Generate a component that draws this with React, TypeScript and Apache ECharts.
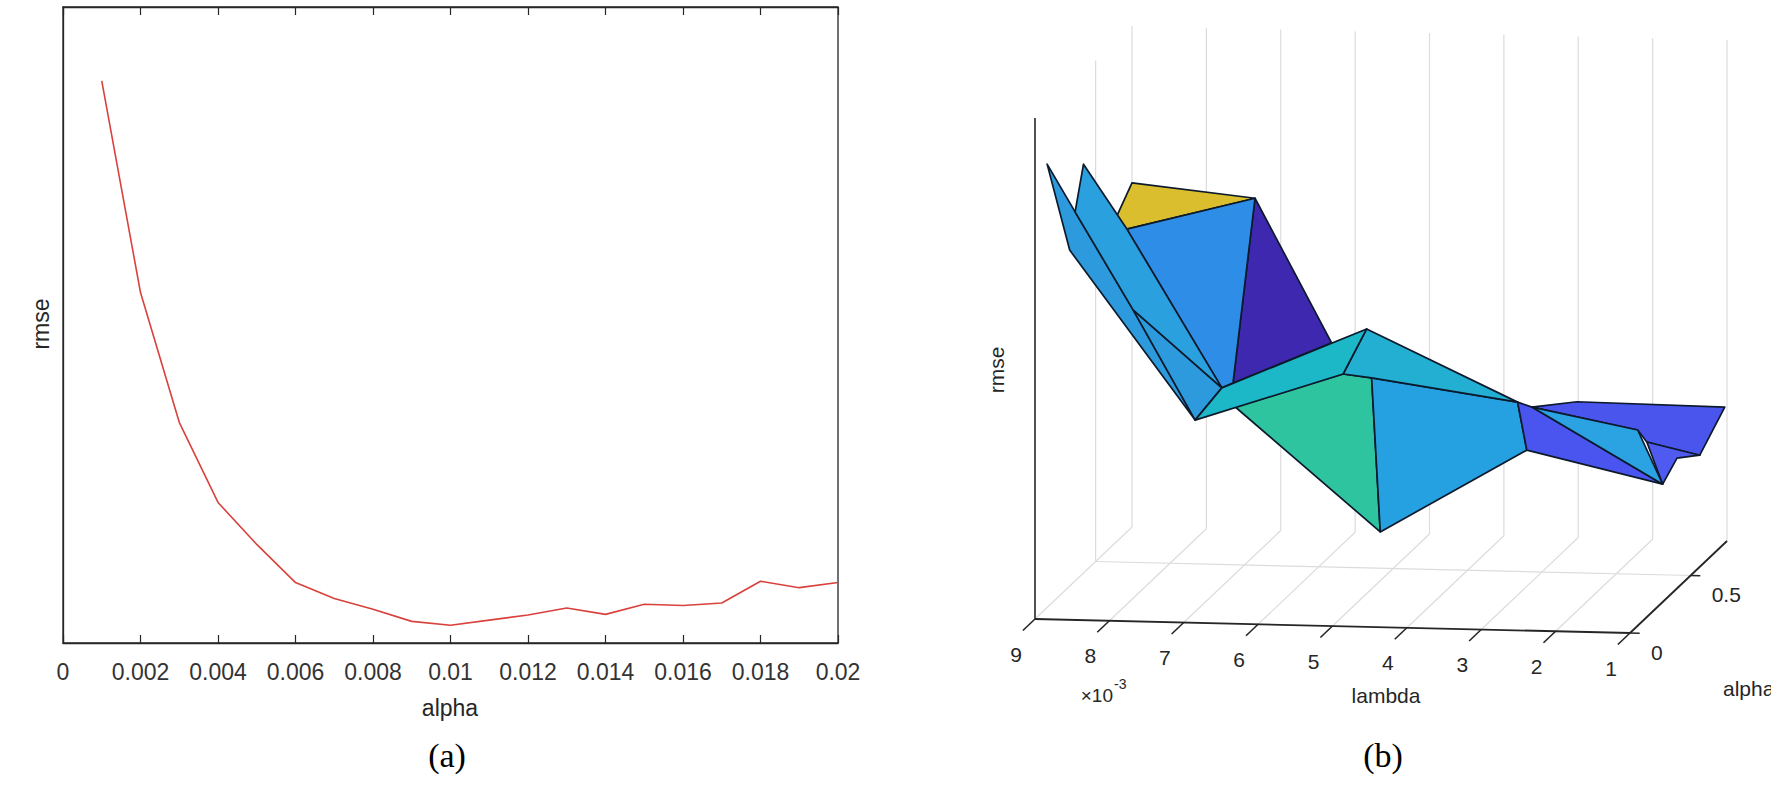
import React, { useEffect, useRef } from 'react';
import * as echarts from 'echarts';

// ---------- (a) rmse vs alpha ----------
const alphaSteps = [
  0.001, 0.002, 0.003, 0.004, 0.005, 0.006, 0.007, 0.008, 0.009, 0.01,
  0.011, 0.012, 0.013, 0.014, 0.015, 0.016, 0.017, 0.018, 0.019, 0.02,
];
const rmseCurve = [
  0.884, 0.551, 0.347, 0.221, 0.155, 0.095, 0.07, 0.053, 0.034, 0.028,
  0.036, 0.044, 0.055, 0.045, 0.061, 0.059, 0.063, 0.097, 0.087, 0.095,
];

// ---------- (b) rmse surface over lambda (x10^-3) and alpha ----------
const lambdaTicks = [1, 2, 3, 4, 5, 6, 7, 8, 9];
const alphaTicks = [0, 0.5];
const lambdaRange = [1, 9];
const alphaRange = [0, 0.8];
const rmseRange = [0, 1];

// surface vertices
const surfLambda = [
  9.0, 9.0, 8.95, 8.86, 8.17, 7.01, 7.14, 8.96, 8.58, 9.0,
  7.02, 6.99, 5.99, 5.03, 5.02, 6.47, 4.8, 5.01, 3.0, 3.04,
  2.89, 2.04, 1.03, 1.04, 1.06, 1.1, 1.02, 1.05,
];
const surfAlpha = [
  0.1, 0.4, 0.3, 0.2, 0.3, 0.1, 0.4, 0.65, 0.5, 0.8,
  0.6, 0.4, 0.6, 0.3, 0.1, 0.1, 0.2, 0.4, 0.3, 0.4,
  0.35, 0.2, 0.8, 0.6, 0.1, 0.2, 0.4, 0.3,
];
const surfRmse = [
  0.885, 0.816, 0.744, 0.691, 0.551, 0.381, 0.376, 0.655, 0.665, 0.687,
  0.709, 0.386, 0.424, 0.524, 0.48, 0.409, 0.45, 0.096, 0.385, 0.266,
  0.364, 0.412, 0.267, 0.217, 0.382, 0.335, 0.257, 0.228,
];
// faces (vertex indices), in back-to-front order
const surfFaces = [
  [9, 10, 8, 7],
  [10, 12, 11],
  [8, 10, 11, 6],
  [0, 2, 4, 5, 3],
  [4, 6, 5],
  [1, 8, 6, 4, 2],
  [15, 14, 16, 17],
  [16, 18, 19, 17],
  [13, 18, 16, 14],
  [5, 6, 13, 14],
  [20, 21, 22, 23, 25, 24],
  [25, 23, 26, 27],
  [18, 20, 27, 19],
  [20, 24, 27],
];
const faceColors = [
  '#DBBE2E', '#3E28B0', '#2E8DE6', '#2C9ADC', '#2C9ADC', '#2AA0DF', '#2FC4A0',
  '#25A0E0', '#22AFD2', '#1DB8C8', '#4A55EE', '#4E5AF0', '#4A54EE', '#2BA3E2',
];

// ---------- layout ----------
const FONT = '"Liberation Sans", Arial, Helvetica, sans-serif';
const SERIF = '"Liberation Serif", "Times New Roman", serif';
const TXT = '#262626';
const BOX = { ox: 1035, oy: 619, lx: 595, ly: 14, ax: 97, ay: -92, zx: 0, zy: -501 };

function project(l: number, a: number, z: number): number[] {
  const u = (lambdaRange[1] - l) / (lambdaRange[1] - lambdaRange[0]);
  const v = (a - alphaRange[0]) / (alphaRange[1] - alphaRange[0]);
  const w = (z - rmseRange[0]) / (rmseRange[1] - rmseRange[0]);
  return [
    BOX.ox + u * BOX.lx + v * BOX.ax + w * BOX.zx,
    BOX.oy + u * BOX.ly + v * BOX.ay + w * BOX.zy,
  ];
}

type Seg = { a: number[]; b: number[]; color: string; width: number };
function buildSegments(): Seg[] {
  const segs: Seg[] = [];
  const grid = '#DCDCDC';
  const lmax = lambdaRange[1], lmin = lambdaRange[0];
  const amax = alphaRange[1];
  const z0 = rmseRange[0], z1 = rmseRange[1];
  lambdaTicks.forEach((l) => {
    segs.push({ a: [l, 0, z0], b: [l, amax, z0], color: grid, width: 1.2 });
    segs.push({ a: [l, amax, z0], b: [l, amax, z1], color: grid, width: 1.2 });
  });
  alphaTicks.filter((a) => a > 0).forEach((a) => {
    segs.push({ a: [lmax, a, z0], b: [lmin, a, z0], color: grid, width: 1.2 });
    segs.push({ a: [lmax, a, z0], b: [lmax, a, z1], color: grid, width: 1.2 });
  });
  const ax = '#262626';
  segs.push({ a: [lmax, 0, z0], b: [lmax, 0, z1], color: ax, width: 1.6 });
  segs.push({ a: [lmax, 0, z0], b: [lmin, 0, z0], color: ax, width: 1.8 });
  segs.push({ a: [lmin, 0, z0], b: [lmin, amax, z0], color: ax, width: 1.8 });
  lambdaTicks.forEach((l) => {
    segs.push({ a: [l, 0, z0], b: [l, -0.1, z0], color: ax, width: 1.6 });
  });
  alphaTicks.forEach((a) => {
    segs.push({ a: [lmin, a, z0], b: [lmin - 0.13, a, z0], color: ax, width: 1.6 });
  });
  return segs;
}

type Lbl = { text: string; p: number[]; dx: number; dy: number; align: string };
function buildLabels(): Lbl[] {
  const out: Lbl[] = [];
  lambdaTicks.forEach((l) => out.push({ text: String(l), p: [l, 0, rmseRange[0]], dx: -19, dy: 35, align: 'center' }));
  alphaTicks.forEach((a) => out.push({ text: String(a), p: [lambdaRange[0], a, rmseRange[0]], dx: 21, dy: 19, align: 'left' }));
  return out;
}

export default function App() {
  const ref = useRef<HTMLDivElement>(null);
  useEffect(() => {
    document.body.style.margin = '0';
    const chart = echarts.init(ref.current as HTMLDivElement, null, { renderer: 'svg' });
    const segs = buildSegments();
    const labels = buildLabels();
    const xFmt = (v: number) => String(+v.toFixed(4));

    const option: any = {
      animation: false,
      backgroundColor: '#ffffff',
      grid: [
        { left: 63, top: 7, width: 775, height: 636, show: true, borderColor: '#262626', borderWidth: 1.3, backgroundColor: 'transparent' },
        { left: 0, top: 0, width: 1771, height: 796, show: false },
      ],
      xAxis: [
        {
          gridIndex: 0, type: 'value', min: 0, max: 0.02, interval: 0.002,
          axisLine: { show: true, lineStyle: { color: '#262626', width: 1.3 } },
          axisTick: { show: true, inside: true, length: 8, lineStyle: { color: '#262626', width: 1.2 } },
          axisLabel: { margin: 17, fontSize: 23, color: '#333', fontFamily: FONT, formatter: xFmt },
          splitLine: { show: false },
        },
        {
          gridIndex: 0, type: 'value', position: 'top', min: 0, max: 0.02, interval: 0.002,
          axisLine: { show: true, lineStyle: { color: '#262626', width: 1.3 } },
          axisTick: { show: true, inside: true, length: 8, lineStyle: { color: '#262626', width: 1.2 } },
          axisLabel: { show: false },
          splitLine: { show: false },
        },
        { gridIndex: 1, type: 'value', min: 0, max: 1771, show: false },
      ],
      yAxis: [
        {
          gridIndex: 0, type: 'value', min: 0, max: 1,
          axisLine: { show: true, lineStyle: { color: '#262626', width: 1.3 } },
          axisTick: { show: false }, axisLabel: { show: false }, splitLine: { show: false },
        },
        { gridIndex: 1, type: 'value', min: 0, max: 796, inverse: true, show: false },
      ],
      series: [
        {
          type: 'line', xAxisIndex: 0, yAxisIndex: 0,
          data: alphaSteps.map((a, i) => [a, rmseCurve[i]]),
          symbol: 'none', silent: true,
          lineStyle: { color: '#D9413C', width: 1.6 },
        },
        {
          type: 'custom', xAxisIndex: 2, yAxisIndex: 1, silent: true,
          data: segs.map((_, i) => [i, 0]),
          renderItem: (params: any, api: any) => {
            const s = segs[params.dataIndex];
            const p1 = api.coord(project(s.a[0], s.a[1], s.a[2]));
            const p2 = api.coord(project(s.b[0], s.b[1], s.b[2]));
            return {
              type: 'line',
              shape: { x1: p1[0], y1: p1[1], x2: p2[0], y2: p2[1] },
              style: { stroke: s.color, lineWidth: s.width },
            };
          },
        },
        {
          type: 'custom', xAxisIndex: 2, yAxisIndex: 1, silent: true,
          data: surfFaces.map((_, i) => [i, 0]),
          renderItem: (params: any, api: any) => {
            const f = surfFaces[params.dataIndex];
            const pts = f.map((vi) => api.coord(project(surfLambda[vi], surfAlpha[vi], surfRmse[vi])));
            return {
              type: 'polygon',
              shape: { points: pts },
              style: { fill: faceColors[params.dataIndex], stroke: '#0c1a2c', lineWidth: 1.7, lineJoin: 'round' },
            };
          },
        },
        {
          type: 'custom', xAxisIndex: 2, yAxisIndex: 1, silent: true,
          data: labels.map((_, i) => [i, 0]),
          renderItem: (params: any, api: any) => {
            const l = labels[params.dataIndex];
            const p = api.coord(project(l.p[0], l.p[1], l.p[2]));
            return {
              type: 'text',
              x: p[0] + l.dx,
              y: p[1] + l.dy,
              style: {
                text: l.text, fontSize: 21, fontFamily: FONT, fill: TXT,
                align: l.align, verticalAlign: 'middle',
                textAlign: l.align, textVerticalAlign: 'middle',
              },
            };
          },
        },
      ],
      graphic: [
        { type: 'text', x: 41, y: 324, rotation: Math.PI / 2, style: { text: 'rmse', fontSize: 23, fontFamily: FONT, fill: TXT, align: 'center', verticalAlign: 'middle' } },
        { type: 'text', x: 450, y: 708, style: { text: 'alpha', fontSize: 23, fontFamily: FONT, fill: TXT, align: 'center', verticalAlign: 'middle' } },
        { type: 'text', x: 447, y: 755, style: { text: '(a)', fontSize: 34, fontFamily: SERIF, fill: '#000', align: 'center', verticalAlign: 'middle' } },
        { type: 'text', x: 996, y: 370, rotation: Math.PI / 2, style: { text: 'rmse', fontSize: 21, fontFamily: FONT, fill: TXT, align: 'center', verticalAlign: 'middle' } },
        { type: 'text', x: 1113, y: 695, style: { text: '×10', fontSize: 19, fontFamily: FONT, fill: TXT, align: 'right', verticalAlign: 'middle' } },
        { type: 'text', x: 1114, y: 684, style: { text: '-3', fontSize: 14, fontFamily: FONT, fill: TXT, align: 'left', verticalAlign: 'middle' } },
        { type: 'text', x: 1386, y: 695, style: { text: 'lambda', fontSize: 21, fontFamily: FONT, fill: TXT, align: 'center', verticalAlign: 'middle' } },
        { type: 'text', x: 1723, y: 688, style: { text: 'alpha', fontSize: 21, fontFamily: FONT, fill: TXT, align: 'left', verticalAlign: 'middle' } },
        { type: 'text', x: 1383, y: 755, style: { text: '(b)', fontSize: 34, fontFamily: SERIF, fill: '#000', align: 'center', verticalAlign: 'middle' } },
      ],
    };
    chart.setOption(option);
    return () => chart.dispose();
  }, []);
  return (
    <div
      ref={ref}
      style={{ position: 'fixed', left: 0, top: 0, width: 1771, height: 796, background: '#fff' }}
    />
  );
}
